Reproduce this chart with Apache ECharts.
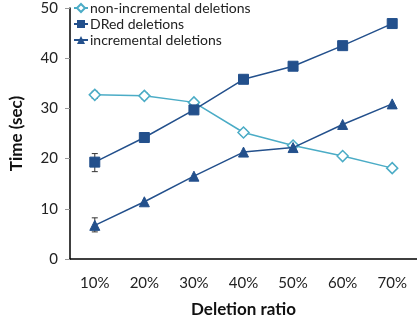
<!DOCTYPE html>
<html><head><meta charset="utf-8">
<script src="https://cdn.jsdelivr.net/npm/echarts@6/dist/echarts.min.js"></script>
<style>html,body{margin:0;padding:0;background:#fff}#c{width:417px;height:323px}</style>
</head><body><div id="c"></div>
<script>
var categories = ['10%','20%','30%','40%','50%','60%','70%'];
var nonIncremental = [32.7, 32.5, 31.2, 25.2, 22.6, 20.5, 18.1];
var dred = [19.3, 24.2, 29.7, 35.8, 38.4, 42.5, 46.9];
var incremental = [6.7, 11.4, 16.5, 21.3, 22.2, 26.8, 30.9];
// error bars: [categoryIndex, low, high]
var errNon = [[0, 32.0, 33.4], [1, 31.9, 33.1], [3, 24.6, 25.8]];
var errDred = [[0, 17.4, 21.0]];
var errInc = [[0, 5.4, 8.2]];

var light = '#4bacc6', dark = '#23508c';
var font = 'Lato, "Open Sans", sans-serif';

function errSeries(data) {
  return {
    type: 'custom', silent: true, z: 1,
    renderItem: function (params, api) {
      var x = api.value(0);
      var lo = api.coord([x, api.value(1)]);
      var hi = api.coord([x, api.value(2)]);
      var w = 3;
      var st = {stroke: '#333', lineWidth: 1};
      return {type: 'group', children: [
        {type: 'line', shape: {x1: lo[0], y1: lo[1], x2: hi[0], y2: hi[1]}, style: st},
        {type: 'line', shape: {x1: lo[0]-w, y1: lo[1], x2: lo[0]+w, y2: lo[1]}, style: st},
        {type: 'line', shape: {x1: hi[0]-w, y1: hi[1], x2: hi[0]+w, y2: hi[1]}, style: st}
      ]};
    },
    data: data
  };
}

var chart = echarts.init(document.getElementById('c'));
chart.setOption({
  animation: false,
  grid: {left: 70, right: -3, top: 8, bottom: 60},
  legend: {
    orient: 'vertical', left: 68, top: -4, itemGap: 2, itemWidth: 14, itemHeight: 10,
    textStyle: {fontFamily: font, fontSize: 14, color: '#222', padding: [0, 0, 0, -3]},
    data: ['non-incremental deletions', 'DRed deletions', 'incremental deletions']
  },
  xAxis: {
    type: 'category', data: categories, boundaryGap: true,
    name: 'Deletion ratio', nameLocation: 'middle', nameGap: 42,
    nameTextStyle: {fontFamily: font, fontSize: 17, fontWeight: 'bold', color: '#111'},
    axisLine: {lineStyle: {color: '#000', width: 1.5}},
    axisTick: {alignWithLabel: true, length: 5, lineStyle: {color: '#999'}},
    axisLabel: {fontFamily: font, fontSize: 15, color: '#222', margin: 17}
  },
  yAxis: {
    type: 'value', min: 0, max: 50, interval: 10,
    name: 'Time (sec)', nameLocation: 'middle', nameGap: 45,
    nameTextStyle: {fontFamily: font, fontSize: 17, fontWeight: 'bold', color: '#111'},
    axisLine: {show: true, lineStyle: {color: '#000', width: 1.5}},
    axisTick: {show: true, length: 5, lineStyle: {color: '#999'}},
    splitLine: {show: false},
    axisLabel: {fontFamily: font, fontSize: 15, color: '#222', margin: 12}
  },
  series: [
    {name: 'non-incremental deletions', type: 'line', data: nonIncremental,
     symbol: 'diamond', symbolSize: 11, showAllSymbol: true,
     itemStyle: {color: '#fff', borderColor: light, borderWidth: 1.5},
     lineStyle: {color: light, width: 1.5}, z: 2},
    {name: 'DRed deletions', type: 'line', data: dred,
     symbol: 'rect', symbolSize: 10,
     itemStyle: {color: dark, borderColor: dark},
     lineStyle: {color: dark, width: 1.5}, z: 3},
    {name: 'incremental deletions', type: 'line', data: incremental,
     symbol: 'triangle', symbolSize: 10,
     itemStyle: {color: dark, borderColor: dark},
     lineStyle: {color: dark, width: 1.5}, z: 3},
    errSeries(errNon), errSeries(errDred), errSeries(errInc)
  ]
});
</script></body></html>
